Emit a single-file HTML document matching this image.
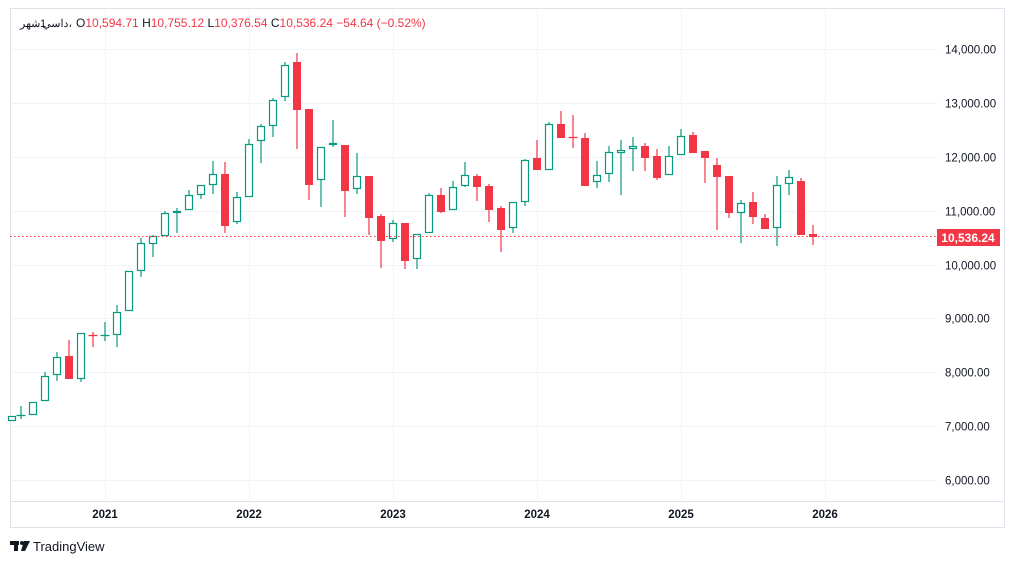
<!DOCTYPE html>
<html><head><meta charset="utf-8"><style>
html,body{margin:0;padding:0;background:#fff;width:1014px;height:564px;overflow:hidden}
svg text{font-family:"Liberation Sans","Noto Sans CJK SC",sans-serif}
</style></head><body>
<svg id="s" width="1014" height="564" xmlns="http://www.w3.org/2000/svg">
<rect x="10.5" y="8.5" width="994" height="519" fill="#fff" stroke="#e0e3eb"/>
<line x1="10" y1="501.5" x2="1004" y2="501.5" stroke="#e0e3eb"/>
<g id="grid" stroke="#f0f3fa" stroke-width="1"></g>
<g id="c"></g>
<line x1="10" y1="236.5" x2="938" y2="236.5" stroke="#f23645" stroke-dasharray="1.5,2.5"/>
<rect x="937" y="229" width="63" height="17" fill="#f23645"/>
<text x="968" y="242" fill="#fff" font-size="12" font-weight="bold" text-anchor="middle">10,536.24</text>
<g id="pl" font-size="11.5" fill="#131722"></g>
<g font-size="11.5" fill="#131722" font-weight="bold" text-anchor="middle">
<text x="105" y="518">2021</text><text x="249" y="518">2022</text><text x="393" y="518">2023</text>
<text x="537" y="518">2024</text><text x="681" y="518">2025</text><text x="825" y="518">2026</text></g>
<text x="20" y="27" font-size="11" fill="#131722">شهر</text>
<text x="40" y="27" font-size="11" fill="#131722">1</text>
<text x="72" y="27" font-size="11" fill="#131722" text-anchor="end">داسي،</text>
<text x="76" y="27" font-size="12" fill="#131722">O<tspan fill="#f23645">10,594.71</tspan>  H<tspan fill="#f23645">10,755.12</tspan>  L<tspan fill="#f23645">10,376.54</tspan>  C<tspan fill="#f23645">10,536.24</tspan>  <tspan fill="#f23645">−54.64 (−0.52%)</tspan></text>
<g fill="#131722"><rect x="10" y="541" width="9" height="4"/><rect x="14" y="541" width="4" height="10"/><circle cx="22" cy="543" r="2"/><polygon points="24,541 30,541 25,551 21,551"/></g>
<text x="33" y="551" font-size="13" fill="#131722">TradingView</text>
</svg>
<script>
var g=document.getElementById('grid'),pl=document.getElementById('pl'),ns='http://www.w3.org/2000/svg';
function el(t,a,p){var e=document.createElementNS(ns,t);for(var k in a)e.setAttribute(k,a[k]);p.appendChild(e);return e;}
[105,249,393,537,681,825].forEach(function(x){el('line',{x1:x+.5,y1:9,x2:x+.5,y2:501},g);});
for(var p=6;p<=14;p++){var y=Math.round(49+(14-p)*53.875)+.5;el('line',{x1:10,y1:y,x2:938,y2:y},g);
var t=el('text',{x:945,y:y+4},pl);t.textContent=p+',000.00';}
var d=[[12,421,416,416,421],[21,415,415,406,419],[33,415,402,402,415],[45,401,376,372,401],[57,375,357,352,381],[69,356,379,340,379],
[81,379,333,333,382],[93,335,335,332,347],[105,335,335,322,341],[117,335,312,305,347],[129,311,271,271,311],[141,271,243,238,277],
[153,244,236,235,257],[165,236,213,211,236],[177,213,211,208,233],[189,210,195,190,210],[201,195,185,185,199],[213,185,174,161,194],
[225,174,226,162,233],[237,222,197,192,224],[249,197,144,139,197],[261,141,126,124,163],[273,126,100,98,137],[285,97,65,62,101],
[297,62,110,53,149],[309,109,185,109,200],[321,180,147,147,207],[333,145,143,120,147],[345,145,191,145,217],[357,189,176,153,194],
[369,176,218,176,235],[381,216,241,214,268],[393,239,223,220,242],[405,223,261,223,269],[417,259,234,234,269],[429,233,195,193,233],
[441,195,212,188,213],[453,210,187,181,210],[465,186,175,162,187],[477,176,187,174,201],[489,186,210,184,222],[501,208,230,206,252],
[513,228,202,202,233],[525,202,160,159,206],[537,158,170,140,170],[549,170,124,122,170],[561,124,138,111,138],[573,137,137,115,148],
[585,138,186,133,186],[597,182,175,161,188],[609,174,152,146,182],[621,153,150,140,195],[633,149,146,137,171],[645,146,158,143,171],
[657,156,178,149,180],[669,175,156,146,175],[681,155,136,129,155],[693,135,153,132,153],[705,151,158,151,183],[717,165,177,158,230],
[729,176,213,176,218],[741,213,203,200,243],[753,202,217,192,224],[765,218,229,214,229],[777,228,185,176,246],[789,184,177,170,195],
[801,181,235,178,235],[813,234,237,225,245]];
var c=document.getElementById('c');
d.forEach(function(a){var x=a[0],o=a[1],cl=a[2],h=a[3],l=a[4],up=cl<=o&&!(o==cl&&(x==93||x==573));
var col=up?'#089981':'#f23645';var top=Math.min(o,cl),bot=Math.max(o,cl);
el('line',{x1:x,y1:h,x2:x,y2:top,stroke:col,'stroke-width':1.2},c);
el('line',{x1:x,y1:bot,x2:x,y2:l,stroke:col,'stroke-width':1.2},c);
if(bot-top<1.5){el('line',{x1:x-4.5,y1:top+.5,x2:x+4.5,y2:top+.5,stroke:col,'stroke-width':1.3},c);}
else if(up){el('rect',{x:x-3.5,y:top+.5,width:7,height:bot-top-1,fill:'#fff',stroke:col,'stroke-width':1.2},c);}
else{el('rect',{x:x-4,y:top,width:8,height:bot-top,fill:col},c);}});
</script>
</body></html>
